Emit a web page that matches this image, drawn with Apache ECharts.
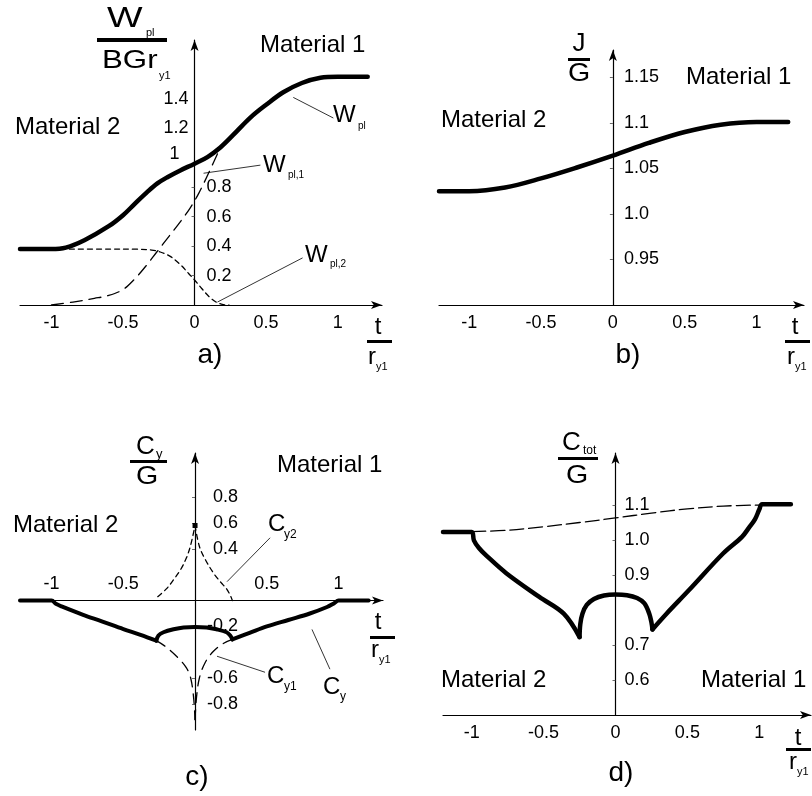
<!DOCTYPE html>
<html>
<head>
<meta charset="utf-8">
<script src="https://cdn.jsdelivr.net/npm/echarts@6/dist/echarts.min.js"></script>
<style>
  html, body { margin: 0; padding: 0; background: #fff; }
  #c { width: 812px; height: 796px; }
</style>
</head>
<body>
<div id="c"></div>
<script>
// ---- data: [t / r_y1, value] ----
// a) plastic work
const wPl = [[-1.22,0.38],[-1,0.38],[-0.9,0.39],[-0.77,0.44],[-0.6,0.535],[-0.5,0.61],[-0.42,0.685],[-0.33,0.768],[-0.26,0.826],[-0.19,0.868],[-0.1,0.914],[0,0.96],[0.09,1.005],[0.18,1.07],[0.27,1.155],[0.39,1.273],[0.5,1.36],[0.62,1.445],[0.75,1.508],[0.88,1.543],[1,1.55],[1.21,1.55]];
const wPl1 = [[-1,0],[-0.85,0.02],[-0.7,0.045],[-0.6,0.065],[-0.5,0.105],[-0.42,0.175],[-0.34,0.265],[-0.26,0.365],[-0.18,0.465],[-0.1,0.565],[-0.03,0.66],[0.03,0.76],[0.1,0.9],[0.18,1.07]];
const wPl2 = [[-1,0.38],[-0.6,0.38],[-0.4,0.379],[-0.3,0.373],[-0.24,0.36],[-0.17,0.33],[-0.1,0.275],[-0.04,0.212],[0,0.17],[0.05,0.112],[0.1,0.058],[0.15,0.02],[0.2,0.003],[0.24,0]];
// b) J-integral
const jG = [[-1.21,1.025],[-1,1.025],[-0.75,1.029],[-0.5,1.039],[-0.25,1.051],[0,1.064],[0.25,1.078],[0.5,1.09],[0.75,1.098],[1,1.101],[1.22,1.101]];
// c) material inhomogeneity term
const cyLeft = [[-1.22,0],[-1,0],[-0.97,-0.025],[-0.93,-0.045],[-0.78,-0.11],[-0.65,-0.16],[-0.5,-0.22],[-0.38,-0.265],[-0.27,-0.31]];
const cyDome = [[-0.27,-0.31],[-0.255,-0.27],[-0.22,-0.245],[-0.15,-0.222],[-0.08,-0.208],[0,-0.205],[0.08,-0.208],[0.15,-0.222],[0.22,-0.245],[0.245,-0.27],[0.26,-0.3]];
const cyRight = [[0.26,-0.3],[0.38,-0.25],[0.5,-0.2],[0.65,-0.15],[0.8,-0.1],[0.92,-0.05],[0.97,-0.02],[1,0],[1.21,0]];
const cy1Left = [[-0.27,-0.31],[-0.2,-0.36],[-0.12,-0.44],[-0.06,-0.52],[-0.03,-0.6],[-0.01,-0.75],[0,-0.92]];
const cy1Right = [[0,-0.92],[0.01,-0.75],[0.03,-0.6],[0.07,-0.48],[0.13,-0.39],[0.2,-0.33],[0.26,-0.3]];
const cy2Left = [[-0.26,0.03],[-0.2,0.09],[-0.15,0.16],[-0.1,0.24],[-0.06,0.33],[-0.03,0.43],[0,0.58]];
const cy2Right = [[0,0.58],[0.03,0.42],[0.07,0.32],[0.13,0.21],[0.18,0.14],[0.22,0.09],[0.25,0.03],[0.26,0]];
// d) total configurational force
const ctLeft = [[-1.2,1.024],[-1,1.024],[-0.985,1.0],[-0.95,0.978],[-0.9,0.957],[-0.76,0.906],[-0.53,0.838],[-0.36,0.79],[-0.25,0.723]];
const ctDome = [[-0.25,0.723],[-0.245,0.76],[-0.23,0.79],[-0.2,0.815],[-0.15,0.832],[-0.08,0.842],[0,0.845],[0.08,0.843],[0.15,0.835],[0.2,0.82],[0.235,0.79],[0.25,0.765],[0.257,0.745]];
const ctRight = [[0.257,0.745],[0.355,0.79],[0.51,0.857],[0.75,0.963],[0.88,1.01],[0.93,1.037],[0.97,1.06],[1.0,1.088],[1.02,1.103],[1.22,1.103]];
const jDashed = [[-1,1.025],[-0.75,1.029],[-0.5,1.039],[-0.25,1.051],[0,1.064],[0.25,1.078],[0.5,1.09],[0.75,1.098],[1,1.101]];

// ---- tick labels ----
const tTicks = [-1, -0.5, 0, 0.5, 1];
const tTicksC = [-1, -0.5, 0.5, 1];
const yTicksA = [0.2, 0.4, 0.6, 0.8];
const yTicksAUpper = [1, 1.2, 1.4];
const yTicksB = [0.95, 1.0, 1.05, 1.1, 1.15];
const yTicksC = [-0.8, -0.6, -0.2, 0.4, 0.6, 0.8];
const yTicksD = [0.6, 0.7, 0.9, 1.0, 1.1];

const FONT = "'Liberation Sans', Arial, Helvetica, sans-serif";
const BLACK = '#000';

// plot areas and axis ranges
const grids = [
  { left: 20, top: 40, width: 362, height: 265, x: [-1.22, 1.31], y: [0, 1.8] },
  { left: 439, top: 50, width: 365, height: 255, x: [-1.21, 1.33], y: [0.9, 1.18] },
  { left: 20, top: 453, width: 363, height: 277, x: [-1.22, 1.31], y: [-1, 1.14] },
  { left: 443, top: 453, width: 368, height: 262, x: [-1.2, 1.36], y: [0.5, 1.25] }
];
// shift an axis so it crosses the other axis at zero
function zeroShift(range, size) {
  return range[0] < 0 ? -(-range[0] / (range[1] - range[0])) * size : 0;
}

function fmt(v) { return String(Math.round(v * 100) / 100); }
function fmt1(v) { return (Math.round(v * 10) / 10).toFixed(1); }

function xAx(i, ticks, above, margin) {
  const g = grids[i];
  return {
    type: 'value', gridIndex: i, min: g.x[0], max: g.x[1],
    position: 'bottom', offset: zeroShift(g.y, g.height),
    splitLine: { show: false },
    axisLine: { onZero: false, lineStyle: { color: BLACK, width: 1.2 }, symbol: ['none', 'arrow'], symbolSize: [6, 11] },
    axisTick: { show: false },
    axisLabel: {
      customValues: ticks, inside: above, margin: margin,
      color: BLACK, fontFamily: FONT, fontSize: 18, formatter: fmt
    }
  };
}
function yAx(i, ticks, opts) {
  const g = grids[i];
  return {
    type: 'value', gridIndex: i, min: g.y[0], max: g.y[1],
    position: 'left', offset: zeroShift(g.x, g.width),
    splitLine: { show: false },
    axisLine: { show: opts.line !== false, onZero: false, lineStyle: { color: BLACK, width: 1.2 }, symbol: ['none', 'arrow'], symbolSize: [6, 11] },
    axisTick: { show: opts.line !== false, customValues: ticks, length: 3, lineStyle: { color: '#444', width: 0.8 } },
    axisLabel: {
      customValues: ticks, inside: opts.inside !== false, margin: opts.margin || 10,
      align: opts.align, color: BLACK, fontFamily: FONT, fontSize: 18,
      formatter: opts.formatter || fmt,
      rich: opts.rich
    }
  };
}

function line(x, y, data, width, dash, extra) {
  return Object.assign({
    type: 'line', xAxisIndex: x, yAxisIndex: y, data: data,
    showSymbol: false, symbol: 'none', smooth: 0.35,
    silent: true, animation: false,
    lineStyle: { color: BLACK, width: width, type: dash || 'solid', cap: 'round', join: 'round' }
  }, extra || {});
}
function leader(pairs) {
  return {
    silent: true, symbol: ['none', 'none'], animation: false,
    label: { show: false },
    lineStyle: { color: BLACK, width: 0.8, type: 'solid' },
    data: pairs.map(p => [{ coord: p[0] }, { coord: p[1] }])
  };
}

// ---- text helpers ----
function txt(x, y, s, size, align, sx) {
  return {
    type: 'text', x: x, y: y, silent: true, scaleX: sx || 1,
    style: { text: s, font: size + 'px ' + FONT, fill: BLACK,
      align: align || 'left', verticalAlign: 'middle',
      textAlign: align || 'left', textVerticalAlign: 'middle' }
  };
}
function bar(x, y, w, h) {
  return { type: 'rect', silent: true, shape: { x: x, y: y, width: w, height: h || 3 }, style: { fill: BLACK } };
}
function subText(x, y, main, sub, size, subSize, subDx, subDy) {
  return [txt(x, y, main, size), txt(x + subDx, y + subDy, sub, subSize)];
}
function tOverR(tx, ty, bx, by, rx, ry) {
  return [txt(tx, ty, 't', 24, 'center'), bar(bx, by, 25, 3), txt(rx, ry, 'r', 24), txt(rx + 8, ry + 10, 'y1', 11)];
}

const graphics = [].concat(
  // a) axis titles
  [txt(107, 19, 'W', 29, 'left', 1.3), txt(146, 33, 'pl', 11)],
  [bar(97, 38, 70, 4)],
  [txt(102, 61, 'BGr', 25, 'left', 1.25), txt(159, 76, 'y1', 11)],
  tOverR(378, 327, 367, 340, 368, 357),
  [txt(15, 127, 'Material 2', 24), txt(260, 45, 'Material 1', 24), txt(210, 355, 'a)', 28, 'center')],
  subText(333, 115, 'W', 'pl', 24, 10, 25, 11),
  subText(263, 165, 'W', 'pl,1', 24, 10, 25, 10),
  subText(305, 255, 'W', 'pl,2', 24, 10, 25, 9),
  // b)
  [txt(579, 44, 'J', 26, 'center'), bar(568, 58, 22, 3), txt(579, 74, 'G', 26, 'center', 1.1)],
  tOverR(795, 327, 785, 340, 787, 357),
  [txt(441, 120, 'Material 2', 24), txt(686, 77, 'Material 1', 24), txt(628, 355, 'b)', 28, 'center')],
  // c)
  subText(136, 447, 'C', 'y', 26, 13, 20, 7),
  [bar(130, 460, 37, 3), txt(147, 477, 'G', 26, 'center', 1.1)],
  tOverR(378, 622, 370, 636, 371, 650),
  [txt(13, 525, 'Material 2', 24), txt(277, 465, 'Material 1', 24), txt(197, 777, 'c)', 28, 'center')],
  subText(268, 524, 'C', 'y2', 24, 12, 16, 11),
  subText(267, 676, 'C', 'y1', 24, 12, 17, 11),
  subText(323, 687, 'C', 'y', 24, 12, 17, 10),
  // d)
  subText(562, 443, 'C', 'tot', 26, 12, 21, 8),
  [bar(558, 457, 40, 3), txt(577, 476, 'G', 26, 'center', 1.1)],
  tOverR(798, 738, 786, 748, 789, 762),
  [txt(441, 680, 'Material 2', 24), txt(701, 680, 'Material 1', 24), txt(621, 773, 'd)', 28, 'center')]
);

const option = {
  backgroundColor: '#fff',
  animation: false,
  grid: grids.map(g => ({ left: g.left, top: g.top, width: g.width, height: g.height })),
  xAxis: [
    xAx(0, tTicks, false, 9),
    xAx(1, tTicks, false, 9),
    xAx(2, tTicksC, true, 8),
    xAx(3, tTicks, false, 9)
  ],
  yAxis: [
    yAx(0, yTicksA, { margin: 12 }),
    yAx(1, yTicksB, { margin: 11, formatter: v => (Math.abs(v - 1) < 1e-6 ? '1.0' : fmt(v)) }),
    yAx(2, yTicksC, { margin: 43, align: 'right' }),
    yAx(3, yTicksD, { margin: 9, formatter: fmt1 }),
    // upper labels of panel a sit left of the axis
    yAx(0, yTicksAUpper, { line: false, inside: false, margin: 6,
      formatter: v => (Math.abs(v - 1) < 1e-6 ? '{o|1}' : fmt(v)),
      rich: { o: { fontFamily: FONT, fontSize: 18, color: BLACK, padding: [0, 9, 8, 0] } } })
  ],
  graphic: { elements: graphics },
  series: [
    // a)
    line(0, 0, wPl, 4.5, 'solid', { markLine: leader([[[0.69, 1.41], [0.97, 1.27]]]) }),
    line(0, 0, wPl1, 1.3, [12, 7], { markLine: leader([[[0.063, 0.895], [0.46, 0.95]]]) }),
    line(0, 0, wPl2, 1.3, [5, 4], { markLine: leader([[[0.16, 0.02], [0.755, 0.32]]]) }),
    // b)
    line(1, 1, jG, 4.5),
    // c)
    line(2, 2, cyLeft, 4),
    line(2, 2, cyDome, 4),
    line(2, 2, cyRight, 4, 'solid', { markLine: leader([[[0.815, -0.223], [0.94, -0.53]]]) }),
    line(2, 2, cy1Left, 1.3, [10, 7]),
    line(2, 2, cy1Right, 1.3, [10, 7], { markLine: leader([[[0.153, -0.43], [0.488, -0.554]]]) }),
    line(2, 2, cy2Left, 1.3, [5, 4]),
    line(2, 2, cy2Right, 1.3, [5, 4], {
      markLine: leader([[[0.223, 0.146], [0.523, 0.485]]]),
      markPoint: { silent: true, symbol: 'rect', symbolSize: 5, label: { show: false },
        itemStyle: { color: BLACK }, data: [{ coord: cy2Right[0] }] }
    }),
    // d)
    line(3, 3, ctLeft, 4.5),
    line(3, 3, ctDome, 4.5),
    line(3, 3, ctRight, 4.5),
    line(3, 3, jDashed, 1.3, [14, 5])
  ]
};

const chart = echarts.init(document.getElementById('c'), null, { renderer: 'canvas' });
chart.setOption(option);
</script>
</body>
</html>
